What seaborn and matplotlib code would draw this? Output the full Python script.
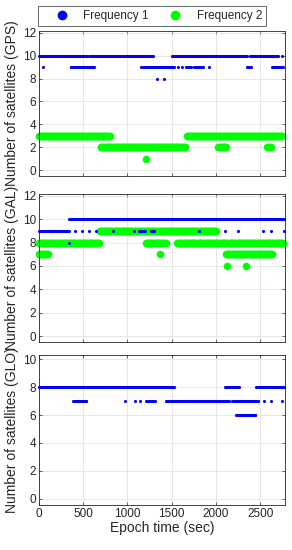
import numpy as np
import pandas as pd
import matplotlib
matplotlib.use("Agg")
import matplotlib.pyplot as plt
from matplotlib.lines import Line2D
import seaborn as sns

# ---- data: runs of constant satellite count (start sec, end sec, count) ----
EPOCH_STEP = 10  # seconds between epochs

gps_f1 = [(0, 545, 10), (566, 1295, 10), (1501, 2352, 10), (2384, 2706, 10), (2751, 2751, 10),
          (45, 45, 9), (357, 623, 9), (1149, 1149, 9), (1180, 1520, 9), (1570, 1570, 9),
          (1620, 1620, 9), (1663, 1720, 9), (1750, 1850, 9), (1918, 1918, 9),
          (2350, 2402, 9), (2631, 2770, 9), (1336, 1336, 8), (1411, 1411, 8)]
gps_f2 = [(0, 805, 3), (1670, 2755, 3), (695, 1660, 2), (2025, 2115, 2),
          (2580, 2625, 2), (1212, 1212, 1)]

gal_f1 = [(338, 2775, 10), (0, 349, 9), (405, 405, 9), (485, 485, 9), (560, 560, 9),
          (645, 645, 9), (837, 837, 9), (1072, 1072, 9), (1135, 1200, 9),
          (1265, 1295, 9), (1813, 1813, 9), (2104, 2104, 9), (2254, 2254, 9),
          (2535, 2535, 9), (2623, 2623, 9), (2765, 2765, 9), (338, 338, 8)]
gal_f2 = [(0, 680, 8), (1210, 1432, 8), (1565, 2755, 8), (685, 1995, 9),
          (0, 100, 7), (1370, 1370, 7), (2111, 2633, 7), (2120, 2120, 6), (2339, 2339, 6)]

glo_f1 = [(0, 1525, 8), (2098, 2260, 8), (2451, 2775, 8),
          (386, 544, 7), (972, 972, 7), (1081, 1081, 7), (1145, 1145, 7),
          (1212, 1312, 7), (1438, 2150, 7), (2178, 2178, 7), (2200, 2485, 7),
          (2545, 2545, 7), (2620, 2620, 7), (2750, 2750, 7), (2226, 2447, 6)]
glo_f2 = []

panel_names = ["GPS", "GAL", "GLO"]
series_labels = ["Frequency 1", "Frequency 2"]
x_ticks = [0, 500, 1000, 1500, 2000, 2500]


def expand(runs):
    xs, ys = [], []
    for s, e, v in runs:
        t = np.arange(s, e + 1, EPOCH_STEP) if e > s else np.array([s])
        xs.extend(t.tolist())
        ys.extend([v] * len(t))
    return pd.DataFrame({"t": xs, "n": ys})


BLUE = "#0000ff"
GREEN = "#00ff00"
AX_COL = "#262626"

sns.set_theme(style="whitegrid")
plt.rcParams["font.family"] = ["Liberation Sans", "DejaVu Sans"]

fig = plt.figure(figsize=(2.92, 5.5), dpi=100)
W, H = 292.0, 550.0
left, right = 39 / W, 285 / W
boxes = [(31, 176), (194, 342), (355, 505)]
ylims = [(-0.5, 12.15), (-0.5, 12.15), (-0.45, 10.3)]
yticks = [np.arange(0, 13, 2), np.arange(0, 13, 2), np.arange(0, 11, 2)]
data = [(gps_f1, gps_f2), (gal_f1, gal_f2), (glo_f1, glo_f2)]

for i, ((top, bot), name, (f1, f2)) in enumerate(zip(boxes, panel_names, data)):
    ax = fig.add_axes([left, 1 - bot / H, right - left, (bot - top) / H])
    ax.set_facecolor("white")
    if f2:
        d2 = expand(f2)
        sns.scatterplot(data=d2, x="t", y="n", ax=ax, color=GREEN, s=30,
                        linewidth=0, clip_on=False, zorder=2, legend=False)
    d1 = expand(f1)
    sns.scatterplot(data=d1, x="t", y="n", ax=ax, color=BLUE, s=5,
                    linewidth=0, clip_on=False, zorder=3, legend=False)
    ax.set_xlim(0, 2780)
    ax.set_ylim(*ylims[i])
    ax.set_yticks(yticks[i])
    ax.set_xticks(x_ticks)
    ax.grid(True, color="#e3e3e3", linewidth=0.6)
    for sp in ax.spines.values():
        sp.set_color(AX_COL)
        sp.set_linewidth(0.6)
        sp.set_visible(True)
    ax.tick_params(direction="in", length=2.5, width=0.5, colors=AX_COL,
                   labelsize=8.5, top=True, right=True, left=True, bottom=True,
                   pad=2)
    ax.set_ylabel(f"Number of satellites ({name})", fontsize=10, color=AX_COL, labelpad=3)
    if i < 2:
        ax.set_xlabel("")
        ax.set_xticklabels([])
    else:
        ax.set_xlabel("Epoch time (sec)", fontsize=10, color=AX_COL, labelpad=1)

handles = [Line2D([], [], linestyle="none", marker="o", markersize=6,
                  markerfacecolor=BLUE, markeredgecolor=BLUE),
           Line2D([], [], linestyle="none", marker="o", markersize=6,
                  markerfacecolor=GREEN, markeredgecolor=GREEN)]
leg = fig.legend(handles, series_labels, loc="center", ncol=2, mode="expand",
                 bbox_to_anchor=(38 / W, 1 - 25 / H, 228 / W, 18 / H),
                 borderaxespad=0, fontsize=8.5, frameon=True, fancybox=False,
                 handlelength=3.4, handletextpad=0.15, columnspacing=0.8,
                 borderpad=0.3)
leg.get_frame().set_edgecolor(AX_COL)
leg.get_frame().set_linewidth(0.6)
for t in leg.get_texts():
    t.set_color(AX_COL)

fig.savefig("out.png", dpi=100)
